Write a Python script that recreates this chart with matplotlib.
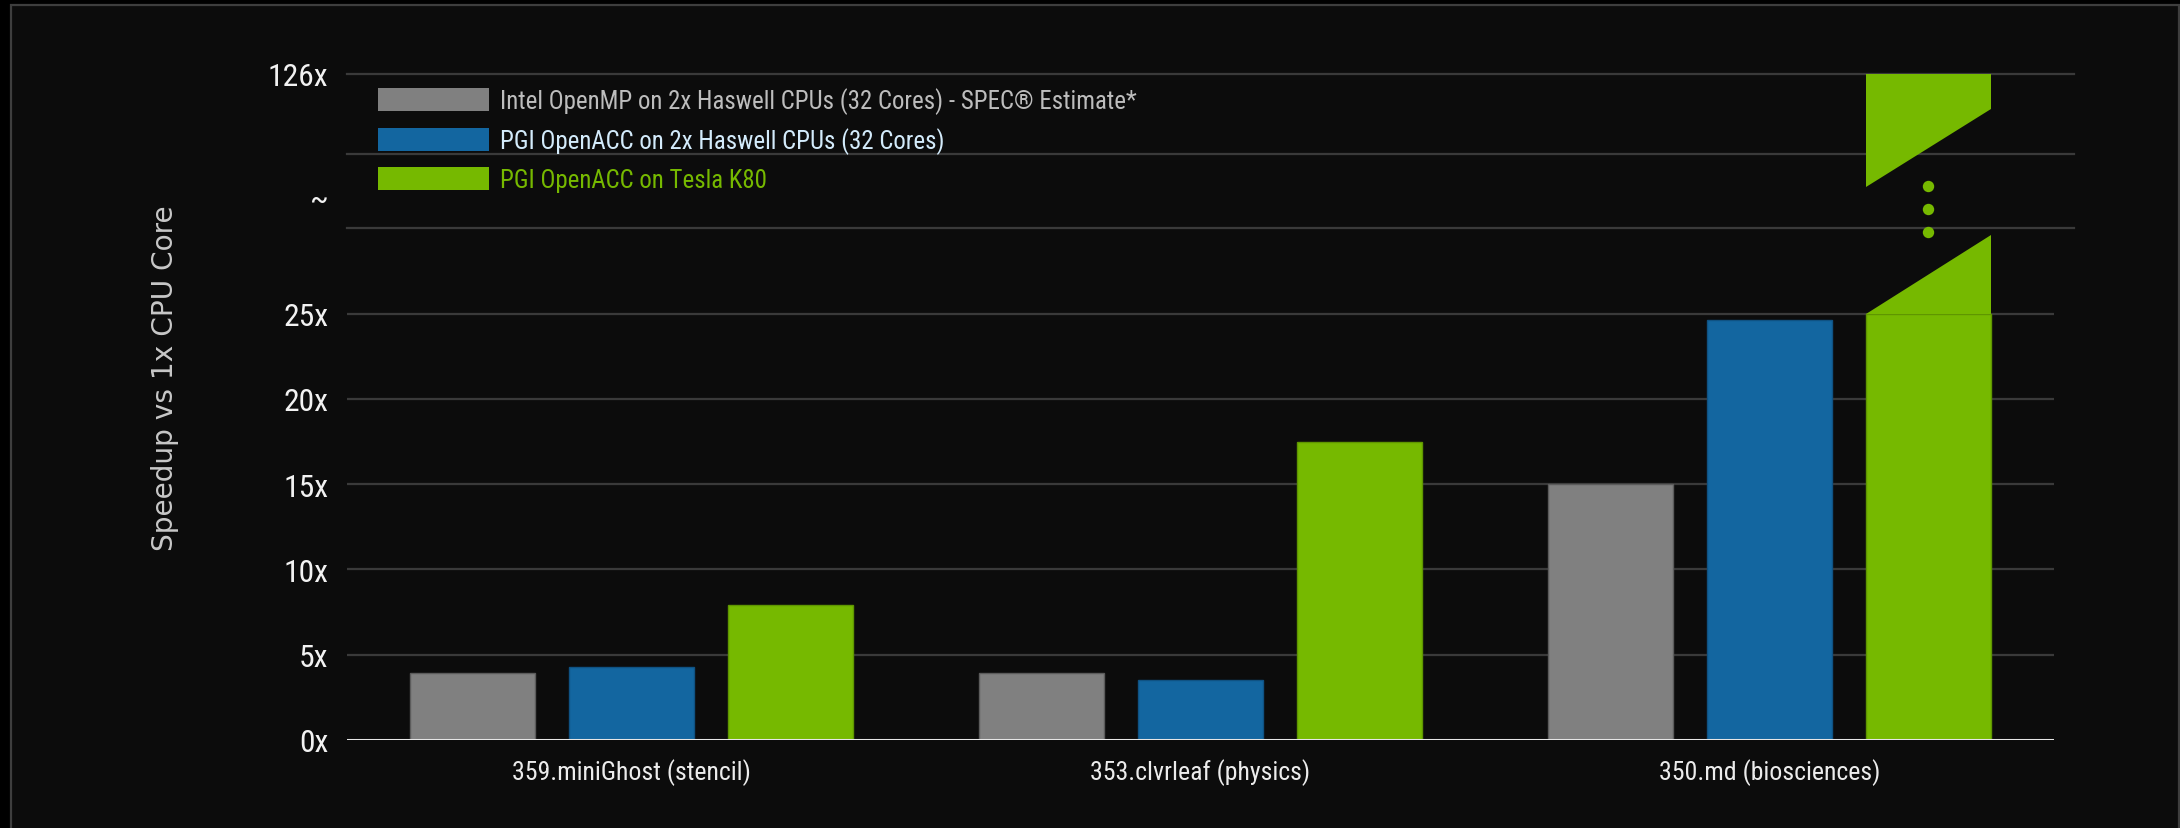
import numpy as np
import matplotlib
matplotlib.use("Agg")
import matplotlib.pyplot as plt
from matplotlib.patches import Patch, Rectangle, Polygon
from matplotlib import font_manager as fm

# ---------------- data ----------------
categories = ["359.miniGhost (stencil)", "353.clvrleaf (physics)", "350.md (biosciences)"]
series_names = [
    "Intel OpenMP on 2x Haswell CPUs (32 Cores) - SPEC\u00ae Estimate*",
    "PGI OpenACC on 2x Haswell CPUs (32 Cores)",
    "PGI OpenACC on Tesla K80",
]
intel_openmp = [3.9, 3.9, 15.0]
pgi_cpu = [4.3, 3.5, 24.6]
pgi_k80 = [7.9, 17.5, 126.0]
ytick_labels = ["0x", "5x", "10x", "15x", "20x", "25x", "~", "126x"]

# ---------------- style ----------------
colors = ["#808080", "#1366a0", "#76b900"]
edge_colors = ["#5c5c5c", "#0f5283", "#5f9600"]
label_colors = ["#bdbdbd", "#d3ebfb", "#76b900"]

def has_font(name):
    try:
        fm.findfont(fm.FontProperties(family=name), fallback_to_default=False)
        return True
    except Exception:
        return False

COND = "DejaVu Sans"
for cand in ["Roboto Condensed", "Open Sans Condensed", "Liberation Sans Narrow",
             "Arial Narrow", "Roboto", "Lato"]:
    if has_font(cand):
        COND = cand
        break

W, H = 2180, 829
DPI = 100
fig = plt.figure(figsize=(W / DPI, H / DPI), dpi=DPI)
fig.patch.set_facecolor("#000000")
renderer = fig.canvas.get_renderer()

def fit_size(s, family, target_w, target_cap):
    t = fig.text(0, 0, s, family=family, size=10)
    w = t.get_window_extent(renderer).width
    t.remove()
    size_w = 10 * target_w / w
    size_h = target_cap / 0.72 * 72 / DPI
    return (size_w * size_h) ** 0.5

ytick_fs = fit_size("126x", COND, 63, 21.7)
xtick_fs = fit_size(categories[0], COND, 250, 17.7)
leg_fs = fit_size(series_names[0], COND, 669, 17.0)

# slide frame
fig.patches.append(Rectangle((10.5 / W, -0.05), (2179 - 10.5) / W, (H - 6) / H + 0.05,
                             transform=fig.transFigure, facecolor="#0c0c0c",
                             edgecolor="#3e3e3e", linewidth=1.6, zorder=-10))

# axes geometry (pixels of the reference)
ax_left, ax_right, ax_top, ax_bottom = 347, 2054, 74.7, 741
ax = fig.add_axes([ax_left / W, (H - ax_bottom) / H, (ax_right - ax_left) / W,
                   (ax_bottom - ax_top) / H])
ax.set_facecolor("none")
ax.set_zorder(5)

BREAK_AT = 25.0
Y_TOP = 39.07
ax.set_xlim(-0.5, 2.5)
ax.set_ylim(0, Y_TOP)

# gridlines (lower regular, upper part of broken axis)
for g in [5, 10, 15, 20, 25]:
    ax.axhline(g, color="#3a3a3a", lw=1.6, zorder=1)
for g in [30.0, 34.38, Y_TOP]:
    ax.axhline(g, xmin=0, xmax=(2074 - ax_left) / (ax_right - ax_left),
               color="#3a3a3a", lw=1.6, zorder=1, clip_on=False)
ax.axhline(0, color="#e6e6e6", lw=2.2, zorder=5)

x = np.arange(len(categories))
bw = 0.22
offs = [-0.279, 0.0, 0.279]
all_series = [intel_openmp, pgi_cpu, pgi_k80]
bar_sets = []
for s, vals in enumerate(all_series):
    v = np.asarray(vals, dtype=float)
    shown = np.minimum(v, BREAK_AT)
    bars = ax.bar(x + offs[s], shown, width=bw, color=colors[s],
                  edgecolor=edge_colors[s], linewidth=1.0, zorder=3,
                  label=series_names[s])
    bar_sets.append((bars, v))

# broken bar decoration for values beyond the break
LOW_WEDGE_TOP = 29.62
UP_BOTTOM_LEFT = 32.43
UP_BOTTOM_RIGHT = 37.0
DOTS = [32.49, 31.14, 29.79]
for s, (bars, v) in enumerate(bar_sets):
    for b, val in zip(bars, v):
        if val > BREAK_AT:
            x0 = b.get_x()
            x1 = x0 + b.get_width()
            ax.add_patch(Polygon([(x0, BREAK_AT), (x1, BREAK_AT), (x1, LOW_WEDGE_TOP)],
                                 closed=True, facecolor=colors[s], edgecolor="none", zorder=3))
            ax.add_patch(Polygon([(x0, UP_BOTTOM_LEFT), (x0, Y_TOP), (x1, Y_TOP), (x1, UP_BOTTOM_RIGHT)],
                                 closed=True, facecolor=colors[s], edgecolor="none", zorder=3))
            ax.plot([(x0 + x1) / 2] * len(DOTS), DOTS, "o", color=colors[s],
                    markersize=8.2, markeredgewidth=0, zorder=4)

# ticks
ax.set_yticks([0, 5, 10, 15, 20, 25, 31.85, Y_TOP])
ax.set_yticklabels(ytick_labels)
ax.tick_params(axis="y", length=0, pad=13.5, labelsize=ytick_fs, labelcolor="#f2f2f2")
for t in ax.get_yticklabels():
    t.set_family(COND)
ax.set_xticks(x)
ax.set_xticklabels(categories)
ax.tick_params(axis="x", length=0, pad=13, labelsize=xtick_fs, labelcolor="#ececec")
for t in ax.get_xticklabels():
    t.set_family(COND)

for sp in ax.spines.values():
    sp.set_visible(False)

# y label
fig.text(165 / W, (H - 378) / H, "Speedup vs 1x CPU Core", rotation=90,
         ha="center", va="center", fontsize=20.2, color="#c8c8c8", family="DejaVu Sans")

# legend
fs_px = leg_fs * DPI / 72
handles = [Patch(facecolor=c, edgecolor="none") for c in colors]
ax_h = ax_bottom - ax_top
ax_w = ax_right - ax_left

def make_legend(labelspacing, anchor_y):
    return ax.legend(handles, series_names, loc="upper left",
                     bbox_to_anchor=((378 - ax_left) / ax_w, anchor_y),
                     frameon=False, borderpad=0, borderaxespad=0,
                     handlelength=111 / fs_px, handleheight=25 / fs_px,
                     handletextpad=11 / fs_px, labelspacing=labelspacing,
                     prop={"family": COND, "size": leg_fs}, labelcolor=label_colors)

ls0 = 0.5
anchor0 = 1 - (86 - ax_top) / ax_h
leg = make_legend(ls0, anchor0)
fig.canvas.draw()
hb = [h.get_window_extent(renderer) for h in leg.legend_handles]
centers = [(b.y0 + b.y1) / 2 for b in hb]  # display coords, origin bottom
pitch = (centers[0] - centers[-1]) / (len(centers) - 1)
ls1 = ls0 + (39.5 - pitch) / fs_px
leg.remove()
leg = make_legend(ls1, anchor0)
fig.canvas.draw()
hb = [h.get_window_extent(renderer) for h in leg.legend_handles]
first_center_from_top = H - (hb[0].y0 + hb[0].y1) / 2
shift = (first_center_from_top - 100.5) / ax_h
leg.remove()
leg = make_legend(ls1, anchor0 + shift)

fig.savefig("out.png", dpi=DPI, facecolor=fig.get_facecolor())
